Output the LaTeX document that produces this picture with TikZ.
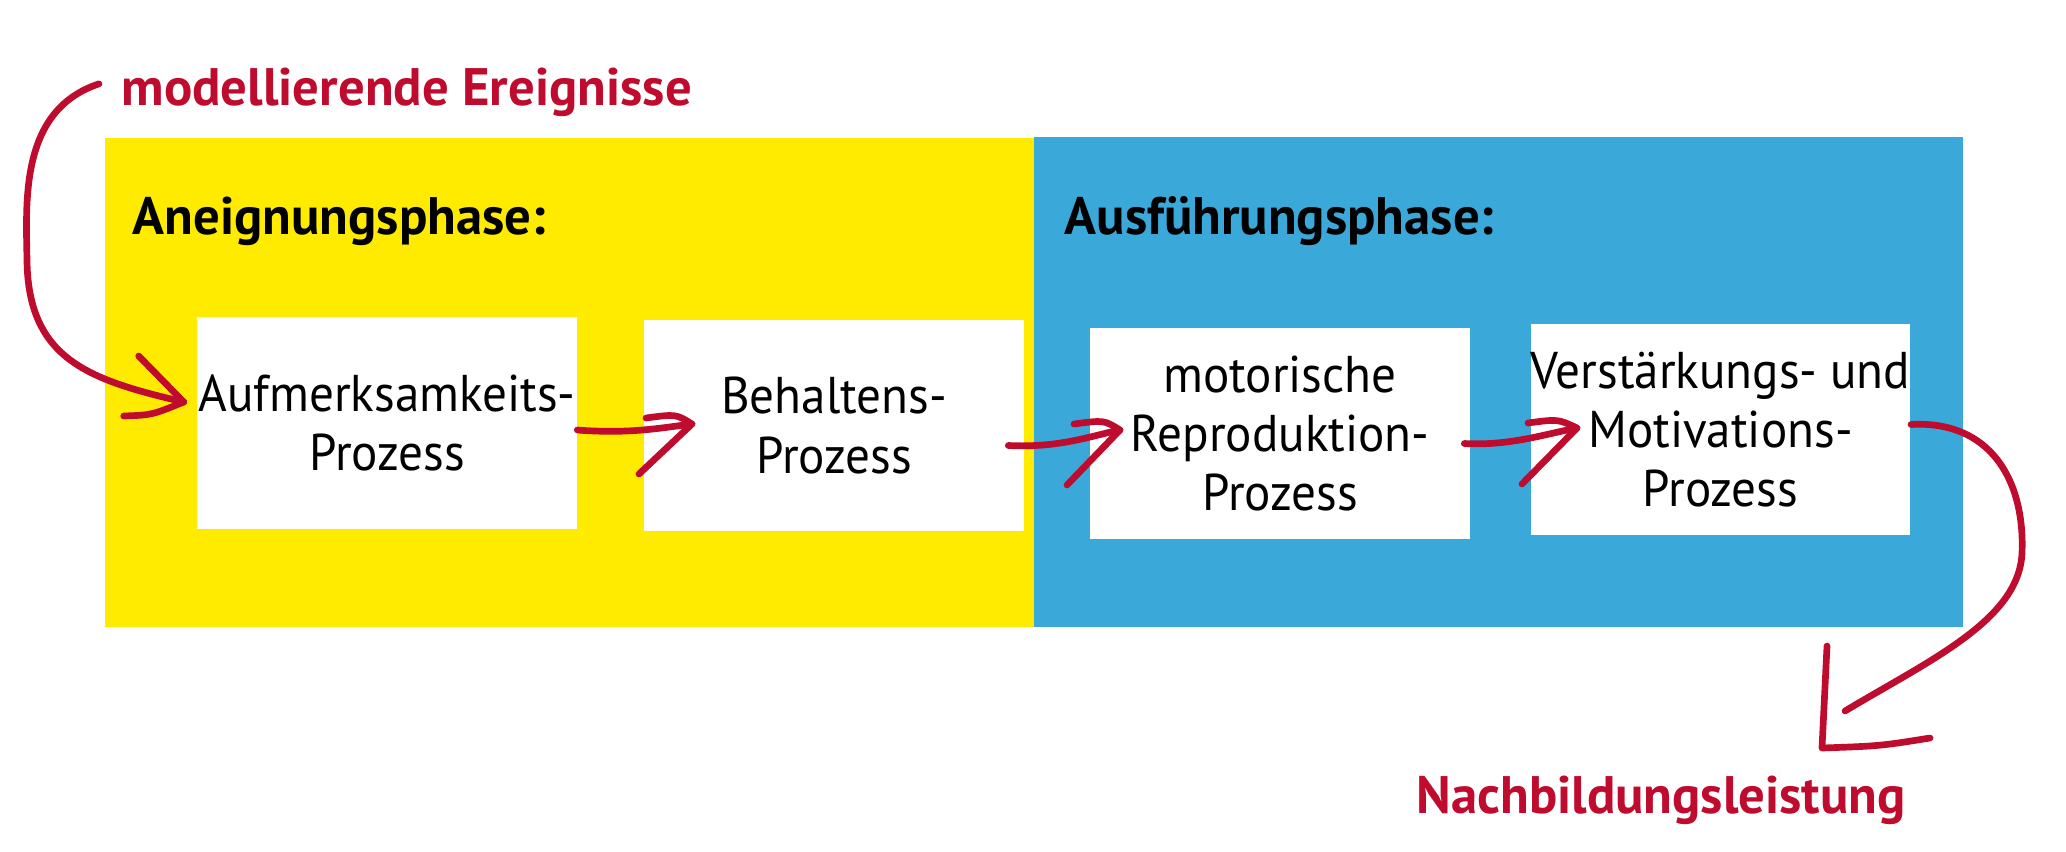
\documentclass[tikz,border=0pt]{standalone}
\usepackage{fontspec}
\setmainfont{PT Sans}
\newfontfamily\procfont[FakeStretch=0.95]{PT Sans}
\usepackage{xcolor}
\usepackage{tikz}
\usetikzlibrary{positioning,calc}
\definecolor{phyellow}{HTML}{FFEB00}
\definecolor{phblue}{HTML}{3BA8DA}
\definecolor{inkred}{HTML}{BE0B2E}

\begin{document}
\begin{tikzpicture}[
  x=0.01cm,y=-0.01cm,
  phase/.style={inner sep=0pt,minimum width=9.29cm,minimum height=4.89cm},
  proc/.style={fill=white,minimum width=3.79cm,minimum height=2.11cm,align=center,
               inner sep=0pt,font=\procfont\fontsize{14.7}{16.8}\selectfont},
  head/.style={anchor=base west,inner sep=0pt,font=\fontsize{15}{17}\selectfont\bfseries},
  pen/.style={draw=inkred,line width=1.9pt,line cap=round,line join=round}
]
\path[use as bounding box,fill=white] (0,0) rectangle (2066,851);
% the two phases
\node[phase,fill=phyellow] (aneig) at (569.5,382.5) {};
\node[phase,fill=phblue]   (ausf)  at (1498.5,382) {};
\node[head] (hA) at (132,234)  {Aneignungsphase:};
\node[head] (hB) at (1064,234) {Ausführungsphase:};
% the four processes
\node[proc] (p1) at (387,423)    {Aufmerksamkeits-\\Prozess};
\node[proc] (p2) at (834,425.5)  {Behaltens-\\Prozess};
\node[proc] (p3) at (1280,433.5) {motorische\\Reproduktion-\\Prozess};
\node[proc] (p4) at (1720.5,429.5) {Verstärkungs- und\\Motivations-\\Prozess};
% input and output
\node[head,text=inkred] (ev)  at (121,105)  {modellierende Ereignisse};
\node[head,text=inkred] (out) at (1416,813) {Nachbildungsleistung};
% hand drawn arrows
\coordinate (t0) at ($(p1.west)+(-13,-21)$);
\draw[pen] ($(ev.west)+(-22,-8)$) .. controls (20,110) and (26,200) .. (27,260)
  .. controls (28,360) and (90,380) .. (t0);
\draw[pen] (t0) ++(-45,-46) -- (t0);
\draw[pen] (t0) ++(-60,14) .. controls (152,415) .. (t0);
\coordinate (t1) at (692,424);
\draw[pen] ($(p1.east)+(0,7)$) .. controls (630,434) and (660,428) .. (t1);
\draw[pen] (t1) ++(-46,-6) .. controls ++(30,-4) .. (t1) -- ++(-53,50);
\coordinate (t2) at (1120,430);
\draw[pen] ($(p2.east)+(-16,20)$) .. controls (1060,448) and (1090,436) .. (t2);
\draw[pen] (t2) ++(-46,-6) .. controls ++(30,-4) .. (t2) -- ++(-53,55);
\coordinate (t3) at (1577,428);
\draw[pen] ($(p3.east)+(-6,10)$) .. controls (1510,446) and (1545,434) .. (t3);
\draw[pen] (t3) ++(-49,-5) .. controls ++(30,-4) .. (t3) -- ++(-55,56);
\coordinate (h4) at (1822,748);
\draw[pen] ($(p4.east)+(0,-5)$) .. controls (1990,420) and (2025,480) .. (2022,553)
  .. controls (2019,620) and (1930,660) .. (1845,711);
\draw[pen] (h4) ++(5,-102) -- (h4) .. controls (1880,746) .. (1930,738);
\end{tikzpicture}
\end{document}
